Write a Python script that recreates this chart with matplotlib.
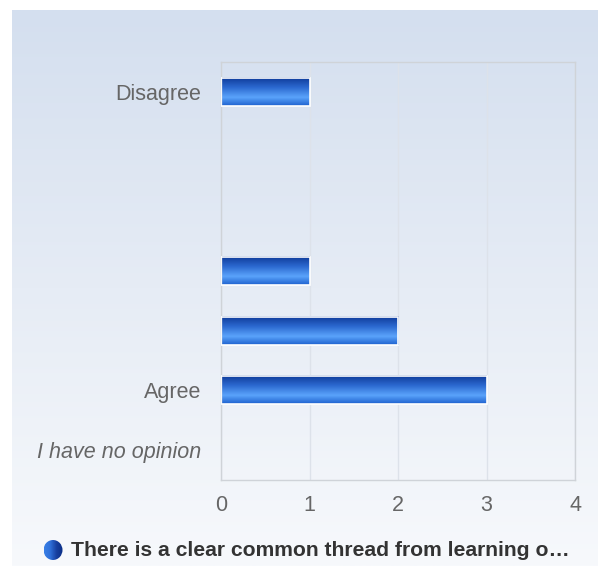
import numpy as np
import matplotlib
matplotlib.use("Agg")
import matplotlib.pyplot as plt
from matplotlib.colors import LinearSegmentedColormap
from matplotlib.patches import Ellipse

plt.rcParams['font.family'] = ['Liberation Sans', 'DejaVu Sans']

categories = ["Disagree", "", "", "", "", "Agree", "I have no opinion"]
values = [1, 0, 0, 1, 2, 3, 0]
xticks = [0, 1, 2, 3, 4]
series_name = "There is a clear common thread from learning o\u2026"

W, H = 598, 566
fig = plt.figure(figsize=(W / 100, H / 100), dpi=100)
fig.patch.set_facecolor('white')

# background panel gradient
bg = fig.add_axes([12 / W, 0, (W - 12) / W, (H - 10) / H])
bg_cmap = LinearSegmentedColormap.from_list('bg', ['#d4dfef', '#e6ecf5', '#f7f9fc'])
bg.imshow(np.linspace(0, 1, 256).reshape(-1, 1), aspect='auto', cmap=bg_cmap,
          extent=[0, 1, 0, 1], origin='upper')
bg.set_axis_off()

ax = fig.add_axes([221 / W, (H - 480) / H, 354 / W, 418 / H])
ax.set_facecolor('none')
n = len(categories)
ypos = np.arange(n)
bars = ax.barh(ypos, values, height=0.47, color='none', edgecolor='white', linewidth=1.2, zorder=3)
ax.set_xlim(0, 4)
ax.set_ylim(n - 0.5, -0.5)

bar_cmap = LinearSegmentedColormap.from_list(
    'bar', [(0.0, '#0e3a98'), (0.35, '#2b68cf'), (0.7, '#5aa3fb'), (1.0, '#1f62cf')])
grad = np.linspace(0, 1, 64).reshape(-1, 1)
for b in bars:
    w = b.get_width()
    if w <= 0:
        b.set_visible(False)
        continue
    x0, y0 = b.get_x(), b.get_y()
    hgt = b.get_height()
    ax.imshow(grad, aspect='auto', cmap=bar_cmap, extent=[x0, x0 + w, y0 + hgt, y0],
              origin='upper', zorder=2)
ax.set_xlim(0, 4)
ax.set_ylim(n - 0.5, -0.5)

ax.set_yticks(ypos)
ax.set_yticklabels(categories)
for lbl in ax.get_yticklabels():
    if lbl.get_text() == "I have no opinion":
        lbl.set_fontstyle('italic')
ax.set_xticks(xticks)
ax.set_xticklabels([str(t) for t in xticks])
ax.tick_params(axis='both', length=0, labelsize=15.5, labelcolor='#666666')
ax.tick_params(axis='y', pad=14)
ax.tick_params(axis='x', pad=11)
ax.grid(axis='x', color='#dde2ea', linewidth=1, zorder=0)
ax.set_axisbelow(True)
for s in ax.spines.values():
    s.set_color('#cfd3d8')
    s.set_linewidth(1)

# legend
cax = fig.add_axes([0, 0, 1, 1])
cax.set_xlim(0, W)
cax.set_ylim(H, 0)
cax.set_axis_off()
circ = Ellipse((53, 550), 19, 20, facecolor='none', edgecolor='none')
cax.add_patch(circ)
lg_cmap = LinearSegmentedColormap.from_list('lg', ['#3a80e6', '#2f6fd8', '#173f9f', '#0b2f86'])
im = cax.imshow(np.linspace(0, 1, 64).reshape(1, -1), aspect='auto', cmap=lg_cmap,
                extent=[43.5, 62.5, 560, 540], zorder=2)
im.set_clip_path(circ)
cax.text(71, 551, series_name, fontsize=15.2, fontweight='bold', color='#333333',
         va='center', ha='left')

fig.savefig('out.png', dpi=100)
